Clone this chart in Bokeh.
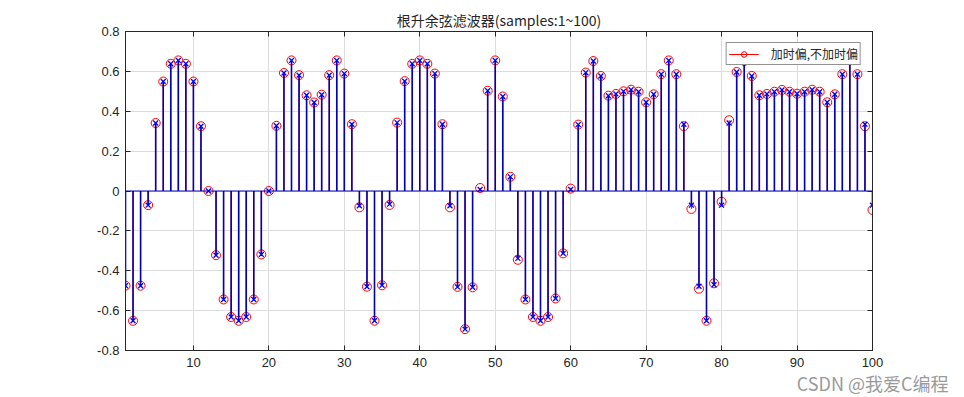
from bokeh.plotting import figure
from bokeh.models import (Range1d, FixedTicker, LinearAxis, Title, Span, Legend,
                          LegendItem, CustomJSTickFormatter, ColumnDataSource)
from bokeh.embed import file_html
from bokeh.resources import INLINE

samples = list(range(1, 101))

y_with_offset = [
    -0.475, -0.651, -0.475, -0.071, 0.341, 0.549, 0.638, 0.655, 0.638, 0.549,
    0.325, 0.0, -0.322, -0.544, -0.632, -0.651, -0.632, -0.544, -0.318, 0.0,
    0.327, 0.592, 0.655, 0.581, 0.480, 0.444, 0.483, 0.581, 0.655, 0.589,
    0.335, -0.082, -0.480, -0.651, -0.473, -0.070, 0.343, 0.551, 0.638, 0.655,
    0.638, 0.589, 0.335, -0.082, -0.481, -0.693, -0.483, 0.015, 0.503, 0.655,
    0.474, 0.071, -0.345, -0.544, -0.632, -0.651, -0.632, -0.539, -0.313, 0.012,
    0.333, 0.594, 0.652, 0.577, 0.478, 0.487, 0.500, 0.508, 0.498, 0.445,
    0.485, 0.586, 0.655, 0.586, 0.325, -0.090, -0.490, -0.651, -0.463, -0.054,
    0.355, 0.597, 0.652, 0.577, 0.480, 0.487, 0.498, 0.507, 0.498, 0.488,
    0.498, 0.508, 0.498, 0.445, 0.485, 0.586, 0.655, 0.586, 0.325, -0.095,
]

y_without_offset = [
    -0.475, -0.651, -0.475, -0.071, 0.341, 0.549, 0.638, 0.655, 0.638, 0.549,
    0.325, 0.0, -0.322, -0.544, -0.632, -0.651, -0.632, -0.544, -0.318, 0.0,
    0.327, 0.592, 0.655, 0.581, 0.480, 0.444, 0.483, 0.581, 0.655, 0.589,
    0.335, -0.074, -0.480, -0.651, -0.473, -0.066, 0.343, 0.551, 0.638, 0.655,
    0.638, 0.589, 0.335, -0.074, -0.481, -0.693, -0.483, 0.008, 0.503, 0.655,
    0.474, 0.071, -0.338, -0.544, -0.632, -0.651, -0.632, -0.539, -0.313, 0.008,
    0.333, 0.594, 0.652, 0.577, 0.478, 0.487, 0.500, 0.508, 0.498, 0.445,
    0.485, 0.586, 0.655, 0.586, 0.335, -0.071, -0.478, -0.651, -0.470, -0.071,
    0.341, 0.597, 0.652, 0.577, 0.480, 0.487, 0.498, 0.507, 0.498, 0.488,
    0.498, 0.508, 0.498, 0.445, 0.485, 0.586, 0.655, 0.586, 0.335, -0.071,
]

x_ticks = [10, 20, 30, 40, 50, 60, 70, 80, 90, 100]
y_ticks = [-0.8, -0.6, -0.4, -0.2, 0.0, 0.2, 0.4, 0.6, 0.8]
title_text = "根升余弦滤波器(samples:1~100)"
legend_text = "加时偏,不加时偏"
watermark_text = "CSDN @我爱C编程"

x_min, x_max = 1, 100
y_min, y_max = -0.8, 0.8

src = ColumnDataSource(dict(x=samples, y1=y_with_offset, y2=y_without_offset,
                            zero=[0.0] * len(samples)))

p = figure(width=964, height=397, output_backend="svg", toolbar_location=None,
           x_range=Range1d(x_min, x_max), y_range=Range1d(y_min, y_max),
           min_border_left=125, min_border_right=92, min_border_top=31,
           min_border_bottom=44, background_fill_color="white",
           border_fill_color="white")

p.title.text = title_text
p.title.align = "center"
p.title.text_font = "Noto Sans CJK SC"
p.title.text_font_size = "14px"
p.title.text_font_style = "normal"
p.title.text_color = "#262626"
p.title.standoff = 4

p.outline_line_color = "#262626"
p.outline_line_width = 1

AX_FONT = "Liberation Sans"
for ax in p.xaxis + p.yaxis:
    ax.major_tick_in = 5
    ax.major_tick_out = 0
    ax.minor_tick_in = 0
    ax.minor_tick_out = 0
    ax.axis_line_color = "#262626"
    ax.major_tick_line_color = "#262626"
    ax.major_label_text_font = AX_FONT
    ax.major_label_text_font_size = "13px"
    ax.major_label_text_color = "#262626"

p.xaxis.ticker = FixedTicker(ticks=x_ticks)
p.yaxis.ticker = FixedTicker(ticks=y_ticks)
p.xaxis.major_label_standoff = 7
p.yaxis.major_label_standoff = 6
p.yaxis.formatter = CustomJSTickFormatter(
    code="return Math.abs(tick) < 1e-9 ? '0' : tick.toFixed(1);")

# mirrored axes (box with inward ticks, no labels)
blank = CustomJSTickFormatter(code="return '';")
top_ax = LinearAxis(ticker=FixedTicker(ticks=x_ticks), major_tick_in=5, major_tick_out=0,
                    minor_tick_in=0, minor_tick_out=0, major_label_text_font_size="0px",
                    major_label_standoff=0, formatter=blank,
                    axis_line_color="#262626", major_tick_line_color="#262626")
right_ax = LinearAxis(ticker=FixedTicker(ticks=y_ticks), major_tick_in=5, major_tick_out=0,
                      minor_tick_in=0, minor_tick_out=0, major_label_text_font_size="0px",
                      major_label_standoff=0, formatter=blank,
                      axis_line_color="#262626", major_tick_line_color="#262626")
p.add_layout(top_ax, "above")
p.add_layout(right_ax, "right")

p.xgrid.ticker = FixedTicker(ticks=x_ticks)
p.ygrid.ticker = FixedTicker(ticks=y_ticks)
p.grid.grid_line_color = "#dcdcdc"
p.grid.grid_line_width = 1

RED = "#ff0000"
STEM_BLUE = "#0000b4"
MARK_BLUE = "#0000ff"

red_stem = p.segment(x0="x", y0="zero", x1="x", y1="y1", source=src,
                     line_color=RED, line_width=1)
red_mark = p.scatter(x="x", y="y1", source=src, marker="circle", size=9,
                     fill_color=None, line_color=RED, line_width=1)
p.segment(x0="x", y0="zero", x1="x", y1="y2", source=src,
          line_color=STEM_BLUE, line_width=1.6)
p.scatter(x="x", y="y2", source=src, marker="x", size=7,
          line_color=MARK_BLUE, line_width=1.3)

p.add_layout(Span(location=0, dimension="width", line_color=STEM_BLUE, line_width=1))

legend = Legend(items=[LegendItem(label=legend_text, renderers=[red_stem, red_mark])],
                location="top_right", margin=11, padding=2, spacing=0,
                glyph_width=30, glyph_height=14, label_height=14,
                label_standoff=12, label_text_font="Noto Sans CJK SC",
                label_text_font_size="12px", label_text_color="#262626",
                border_line_color="#262626", border_line_width=1,
                background_fill_color="white", background_fill_alpha=1)
p.add_layout(legend)

wm = Title(text=watermark_text, align="right", offset=-76, standoff=0,
           vertical_align="top",
           text_font="Noto Sans CJK SC", text_font_size="18px",
           text_font_style="normal", text_color="#9a9a9a")
p.add_layout(wm, "below")

open("out.html", "w").write(file_html(p, INLINE))
